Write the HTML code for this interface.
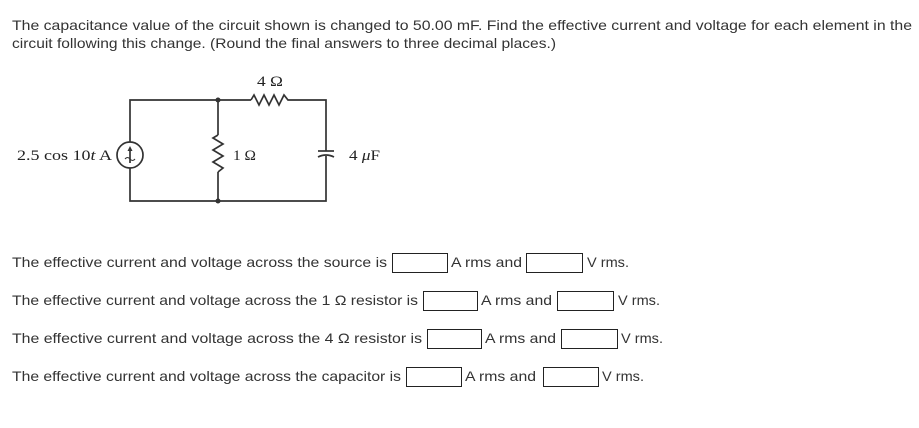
<!DOCTYPE html>
<html><head><meta charset="utf-8"><style>
html,body{margin:0;padding:0;background:#fff;}
svg{display:block;}
.t{font-family:"Liberation Sans",sans-serif;font-size:14px;fill:#333;}
.s{font-family:"Liberation Serif",serif;font-size:14.5px;fill:#222;}
</style></head><body>
<svg width="919" height="428" viewBox="0 0 919 428" xmlns="http://www.w3.org/2000/svg">
<text class="t" x="12" y="30" textLength="900" lengthAdjust="spacingAndGlyphs">The capacitance value of the circuit shown is changed to 50.00 mF. Find the effective current and voltage for each element in the</text>
<text class="t" x="12" y="48" textLength="544" lengthAdjust="spacingAndGlyphs">circuit following this change. (Round the final answers to three decimal places.)</text>

<g stroke="#333" stroke-width="1.7" fill="none">
<polyline points="251,100 130,100 130,142"/>
<polyline points="130,168 130,201 326,201 326,156"/>
<polyline points="291,100 326,100 326,151"/>
<line x1="218" y1="100" x2="218" y2="135"/>
<line x1="218" y1="172" x2="218" y2="201"/>
<polyline points="251,100 254,95 259,105 264,95 269,105 274,95 279,105 284,95 288,100 291,100"/>
<polyline points="218,135 213,138 223,144 213,150 223,156 213,162 223,168 218,172"/>
<line x1="318" y1="151" x2="334" y2="151"/>
<path d="M318,157 Q326,153 334,157"/>
<circle cx="130" cy="155" r="13"/>
<line x1="130" y1="163" x2="130" y2="149"/>
<path d="M125,159 q2.5,-3 5,0 t5,0" stroke-width="1.1"/>
</g>
<polygon points="130,146 127.5,151 132.5,151" fill="#333"/>
<circle cx="218" cy="100" r="2.5" fill="#333"/>
<circle cx="218" cy="201" r="2.5" fill="#333"/>
<text class="s" x="17" y="160" textLength="95" lengthAdjust="spacingAndGlyphs">2.5 cos 10<tspan font-style="italic">t</tspan> A</text>
<text class="s" x="233" y="160" textLength="23" lengthAdjust="spacingAndGlyphs">1 Ω</text>
<text class="s" x="349" y="160" textLength="31" lengthAdjust="spacingAndGlyphs">4 <tspan font-style="italic">μ</tspan>F</text>
<text class="s" x="257" y="86" textLength="26" lengthAdjust="spacingAndGlyphs">4 Ω</text>

<g fill="#fff" stroke="#222" stroke-width="1">
<rect x="392.5" y="253.5" width="55" height="19"/>
<rect x="526.5" y="253.5" width="56" height="19"/>
<rect x="423.5" y="291.5" width="54" height="19"/>
<rect x="557.5" y="291.5" width="56" height="19"/>
<rect x="427.5" y="329.5" width="54" height="19"/>
<rect x="561.5" y="329.5" width="56" height="19"/>
<rect x="406.5" y="367.5" width="55" height="19"/>
<rect x="543.5" y="367.5" width="55" height="19"/>
</g>
<text class="t" x="12" y="267" textLength="375" lengthAdjust="spacingAndGlyphs">The effective current and voltage across the source is</text>
<text class="t" x="451" y="267" textLength="71" lengthAdjust="spacingAndGlyphs">A rms and</text>
<text class="t" x="587" y="267" textLength="42" lengthAdjust="spacingAndGlyphs">V rms.</text>
<text class="t" x="12" y="305" textLength="406" lengthAdjust="spacingAndGlyphs">The effective current and voltage across the 1 Ω resistor is</text>
<text class="t" x="481" y="305" textLength="71" lengthAdjust="spacingAndGlyphs">A rms and</text>
<text class="t" x="618" y="305" textLength="42" lengthAdjust="spacingAndGlyphs">V rms.</text>
<text class="t" x="12" y="343" textLength="410" lengthAdjust="spacingAndGlyphs">The effective current and voltage across the 4 Ω resistor is</text>
<text class="t" x="485" y="343" textLength="71" lengthAdjust="spacingAndGlyphs">A rms and</text>
<text class="t" x="621" y="343" textLength="42" lengthAdjust="spacingAndGlyphs">V rms.</text>
<text class="t" x="12" y="381" textLength="389" lengthAdjust="spacingAndGlyphs">The effective current and voltage across the capacitor is</text>
<text class="t" x="465" y="381" textLength="71" lengthAdjust="spacingAndGlyphs">A rms and</text>
<text class="t" x="602" y="381" textLength="42" lengthAdjust="spacingAndGlyphs">V rms.</text>
</svg>
</body></html>
